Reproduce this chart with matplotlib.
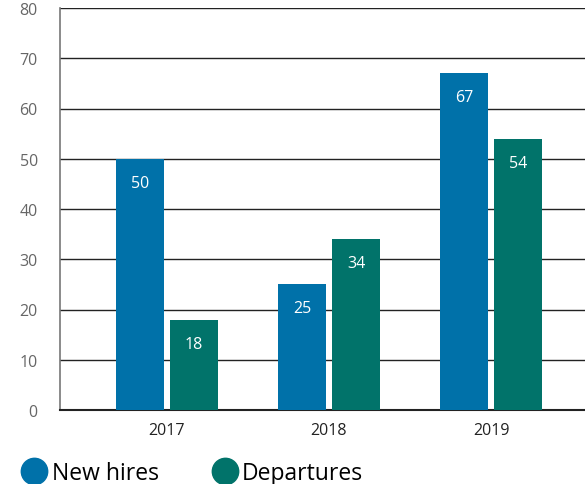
import matplotlib.pyplot as plt
from matplotlib.lines import Line2D
import numpy as np

# ---------------- DATA ----------------
years = ["2017", "2018", "2019"]
new_hires = [50, 25, 67]
departures = [18, 34, 54]

BLUE = "#0071A9"
TEAL = "#01736A"

plt.rcParams['font.family'] = ['Open Sans', 'DejaVu Sans']

fig = plt.figure(figsize=(5.85, 4.85), dpi=100)
ax = fig.add_axes([60/585, 74/485, 525/585, 402/485])

x = np.arange(len(years))
w = 0.30
off = 0.167
b1 = ax.bar(x - off, new_hires, w, color=BLUE, zorder=3)
b2 = ax.bar(x + off, departures, w, color=TEAL, zorder=3)

for bars in (b1, b2):
    for b in bars:
        ax.text(b.get_x() + b.get_width() / 2, b.get_height() - 4.8,
                str(int(b.get_height())), ha='center', va='center',
                color='white', fontsize=11.5, zorder=4)

ax.set_xlim(-0.66, 2.58)
ax.set_ylim(0, 80)
ax.set_yticks(range(0, 81, 10))
ax.set_xticks(x)
ax.set_xticklabels(years)
ax.yaxis.grid(True, color='#222222', linewidth=1.0, zorder=0)
ax.set_axisbelow(True)
ax.tick_params(axis='y', length=0, pad=16, labelsize=11.5, labelcolor='#666666')
ax.tick_params(axis='x', length=0, pad=9, labelsize=11.5, labelcolor='#222222')

for s in ('top', 'right'):
    ax.spines[s].set_visible(False)
ax.spines['left'].set_color('#777777')
ax.spines['left'].set_linewidth(1.2)
ax.spines['bottom'].set_color('#222222')
ax.spines['bottom'].set_linewidth(1.5)

handles = [Line2D([], [], marker='o', linestyle='none', markersize=19,
                  markerfacecolor=BLUE, markeredgecolor=BLUE),
           Line2D([], [], marker='o', linestyle='none', markersize=19,
                  markerfacecolor=TEAL, markeredgecolor=TEAL)]
fig.legend(handles, ["New hires", "Departures"], loc='center left',
           bbox_to_anchor=(0.0, 0.022), ncol=2, frameon=False,
           fontsize=16.5, handletextpad=0.15, columnspacing=2.3,
           handlelength=1.2)

plt.savefig("out.png", dpi=100)
